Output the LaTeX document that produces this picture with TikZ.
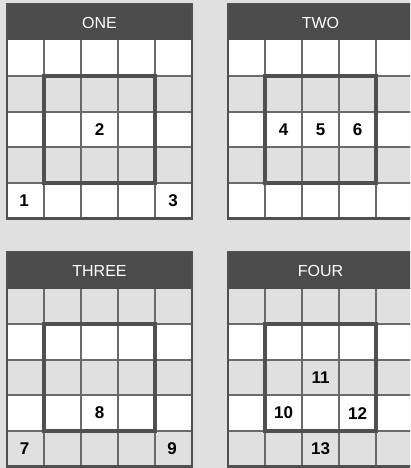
\documentclass[tikz,border=0pt]{standalone}
\usepackage{fontspec}
\setmainfont{Liberation Sans}
\definecolor{bggray}{HTML}{E0E0E0}
\definecolor{cellgray}{HTML}{E0E0E0}
\definecolor{headgray}{HTML}{4B4B4B}
\definecolor{linegray}{HTML}{6A6A6A}
\definecolor{boxgray}{HTML}{505050}
\tikzset{
  gridline/.style={draw=linegray, line width=1.8pt},
  innerbox/.style={draw=boxgray, line width=3.5pt},
  outerbox/.style={draw=boxgray, line width=2.5pt},
  headtext/.style={text=white, font=\fontsize{16}{18}\selectfont, inner sep=0pt},
  num/.style={text=black, font=\fontsize{17}{19}\selectfont\bfseries, inner sep=0pt},
}
\newcommand\mypanel[5]{%
\begin{scope}[shift={(#1,#2)}]
 \fill[cellgray] (0,36.5) rectangle (185,214.5);
 \foreach \r in {#4} \fill[white] (0,{36.5+(\r-1)*35.6}) rectangle (185,{36.5+\r*35.6});
 \foreach \c in {1,...,4} \draw[gridline] (\c*37,36.5) -- (\c*37,214.5);
 \foreach \r in {1,...,4} \draw[gridline] (0,{36.5+\r*35.6}) -- (185,{36.5+\r*35.6});
 \draw[innerbox] (37,{36.5+35.6}) rectangle (148,{36.5+4*35.6});
 \fill[headgray] (0,0) rectangle (185,36.5);
 \node[headtext] (#5) at (92.5,18.5) {#3};
 \draw[outerbox] (0,0) rectangle (185,214.5);
\end{scope}}
\begin{document}
\begin{tikzpicture}[x=1pt,y=-1pt]
\useasboundingbox (0,0) rectangle (410,468);
\clip (0,0) rectangle (410,468);
\fill[bggray] (0,0) rectangle (410,468);
\mypanel{7}{4}{ONE}{1,3,5}{hone}
\mypanel{228}{4}{TWO}{1,3,5}{htwo}
\mypanel{7}{252}{THREE}{2,4}{hthree}
\mypanel{228}{252}{FOUR}{2,4}{hfour}
\node[num] (n1) at (24,200.7) {1};
\node[num] (n2) at (99.5,129.5) {2};
\node[num] (n3) at (173,200.7) {3};
\node[num] (n4) at (283.5,129.5) {4};
\node[num] (n5) at (320.5,129.5) {5};
\node[num] (n6) at (357.5,129.5) {6};
\node[num] (n7) at (24.5,448.7) {7};
\node[num] (n8) at (99.5,413.1) {8};
\node[num] (n9) at (172,448.7) {9};
\node[num] (n10) at (283.5,413.1) {10};
\node[num] (n11) at (320.5,377.5) {11};
\node[num] (n12) at (357.5,413.1) {12};
\node[num] (n13) at (320.5,448.7) {13};
\end{tikzpicture}
\end{document}
